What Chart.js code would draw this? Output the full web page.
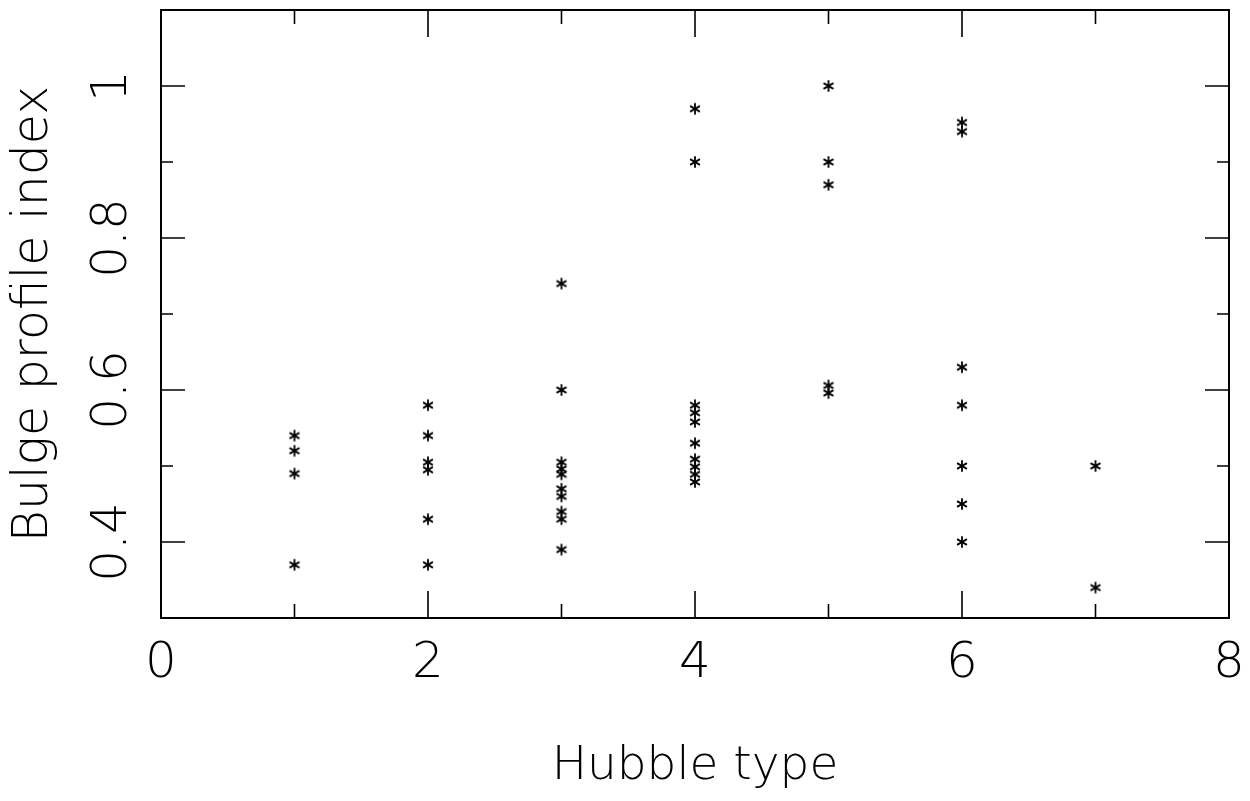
<!DOCTYPE html>
<html>
<head>
<meta charset="utf-8">
<script src="https://cdn.jsdelivr.net/npm/chart.js@4.4.0/dist/chart.umd.min.js"></script>
<style>
  html, body { margin: 0; padding: 0; background: #fff; }
  #wrap { width: 1250px; height: 801px; }
</style>
</head>
<body>
<div id="wrap"><canvas id="bulgeChart"></canvas></div>
<script>
// Hubble type of each galaxy and its bulge profile index
const hubbleType = [
  1, 1, 1, 1,
  2, 2, 2, 2, 2, 2,
  3, 3, 3, 3, 3, 3, 3, 3, 3, 3,
  4, 4, 4, 4, 4, 4, 4, 4, 4, 4,
  5, 5, 5, 5, 5,
  6, 6, 6, 6, 6, 6, 6,
  7, 7
];
const bulgeIndex = [
  0.54, 0.52, 0.49, 0.37,
  0.58, 0.54, 0.505, 0.495, 0.43, 0.37,
  0.74, 0.60, 0.505, 0.496, 0.489, 0.47, 0.46, 0.44, 0.43, 0.39,
  0.97, 0.90, 0.58, 0.57, 0.558, 0.53, 0.509, 0.499, 0.489, 0.479,
  1.00, 0.90, 0.87, 0.606, 0.596,
  0.952, 0.94, 0.63, 0.58, 0.50, 0.45, 0.40,
  0.50, 0.34
];

const xTickValues = [0, 1, 2, 3, 4, 5, 6, 7, 8];
const xTickLabels = [0, 2, 4, 6, 8];
const yTickValues = [0.4, 0.5, 0.6, 0.7, 0.8, 0.9, 1.0];
const yTickLabels = [0.4, 0.6, 0.8, 1.0];

const FONT = "'DejaVu Sans', 'Liberation Sans', sans-serif";

// asterisk marker, 6 spokes
function makeAsterisk() {
  const c = document.createElement('canvas');
  c.width = 14; c.height = 14;
  const g = c.getContext('2d');
  g.strokeStyle = '#000';
  g.lineWidth = 1.8;
  const r = 5.7;
  [90, 30, 150].forEach(a => {
    const t = a * Math.PI / 180;
    g.beginPath();
    g.moveTo(7 - r * Math.cos(t), 7 - r * Math.sin(t));
    g.lineTo(7 + r * Math.cos(t), 7 + r * Math.sin(t));
    g.stroke();
  });
  return c;
}

const isIn = (arr, v) => arr.some(a => Math.abs(a - v) < 1e-9);

// box + inward ticks on all four sides
const framePlugin = {
  id: 'frame',
  afterDraw(chart) {
    const { ctx, chartArea: a, scales } = chart;
    ctx.save();
    ctx.strokeStyle = '#000';
    ctx.lineWidth = 2;
    ctx.strokeRect(a.left, a.top, a.right - a.left, a.bottom - a.top);
    ctx.lineWidth = 1.6;
    ctx.beginPath();
    scales.x.ticks.forEach(t => {
      const px = scales.x.getPixelForValue(t.value);
      if (px <= a.left + 1 || px >= a.right - 1) return;
      const len = isIn(xTickLabels, t.value) ? 27 : 14;
      ctx.moveTo(px, a.bottom); ctx.lineTo(px, a.bottom - len);
      ctx.moveTo(px, a.top); ctx.lineTo(px, a.top + len);
    });
    scales.y.ticks.forEach(t => {
      const py = scales.y.getPixelForValue(t.value);
      const len = isIn(yTickLabels, t.value) ? 24 : 12;
      ctx.moveTo(a.left, py); ctx.lineTo(a.left + len, py);
      ctx.moveTo(a.right, py); ctx.lineTo(a.right - len, py);
    });
    ctx.stroke();
    ctx.restore();
  }
};

document.addEventListener('DOMContentLoaded', () => {
  const ctx = document.getElementById('bulgeChart').getContext('2d');
  const points = hubbleType.map((t, i) => ({ x: t, y: bulgeIndex[i] }));

  new Chart(ctx, {
    type: 'scatter',
    data: {
      datasets: [{
        data: points,
        pointStyle: makeAsterisk(),
        pointRadius: 6,
        borderColor: '#000',
        backgroundColor: '#000'
      }]
    },
    options: {
      responsive: true,
      maintainAspectRatio: false,
      animation: false,
      layout: { padding: { left: 0, top: 10, right: 21, bottom: 0 } },
      plugins: {
        legend: { display: false },
        tooltip: { enabled: false }
      },
      scales: {
        x: {
          type: 'linear',
          min: 0,
          max: 8,
          grid: { display: false, drawTicks: false },
          border: { display: false },
          afterBuildTicks: s => { s.ticks = xTickValues.map(v => ({ value: v })); },
          afterFit: s => { s.height = 183; s.paddingLeft = 0; s.paddingRight = 0; },
          ticks: {
            autoSkip: false,
            maxRotation: 0,
            padding: 21,
            color: '#000',
            font: { family: FONT, size: 50, weight: '200', lineHeight: 1 },
            callback: v => isIn(xTickLabels, v) ? String(v) : ''
          },
          title: {
            display: true,
            text: 'Hubble type',
            color: '#000',
            font: { family: FONT, size: 47, weight: '200', lineHeight: 1 },
            padding: { top: 0, bottom: 11 }
          }
        },
        y: {
          type: 'linear',
          min: 0.3,
          max: 1.1,
          grid: { display: false, drawTicks: false },
          border: { display: false },
          afterBuildTicks: s => { s.ticks = yTickValues.map(v => ({ value: v })); },
          afterFit: s => { s.width = 161; s.paddingTop = 0; s.paddingBottom = 0; },
          ticks: {
            autoSkip: false,
            minRotation: 90,
            maxRotation: 90,
            crossAlign: 'center',
            padding: 8,
            color: '#000',
            font: { family: FONT, size: 50, weight: '200', lineHeight: 1 },
            callback: v => isIn(yTickLabels, v) ? String(Math.round(v * 10) / 10) : ''
          },
          title: {
            display: true,
            text: 'Bulge profile index',
            color: '#000',
            font: { family: FONT, size: 49, weight: '200', lineHeight: 1 },
            padding: { top: 10, bottom: 0 }
          }
        }
      }
    },
    plugins: [framePlugin]
  });
});
</script>
</body>
</html>
